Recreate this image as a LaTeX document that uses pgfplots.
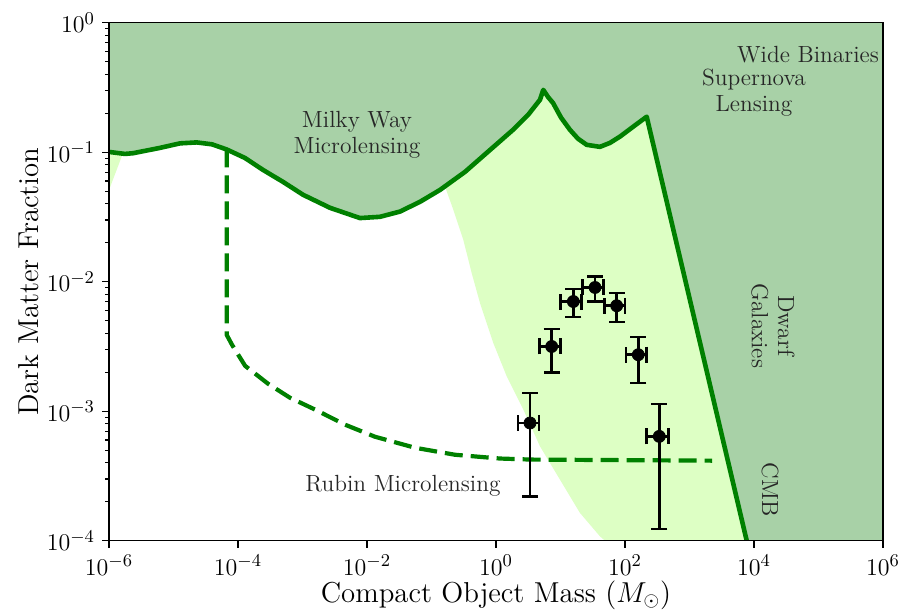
\documentclass[border=0pt]{standalone}
\usepackage{pgfplots}
\pgfplotsset{compat=1.18}
\usepackage{pgfplotstable}

\definecolor{darkfill}{RGB}{168,209,167}
\definecolor{lightfill}{RGB}{221,255,196}
\definecolor{mplgreen}{RGB}{0,128,0}

% Milky Way microlensing bound, then the CMB line down to the bottom
\pgfplotstableread{
x y
1.00e-6 0.1005
1.77e-6 0.0970
2.36e-6 0.0982
6.18e-6 0.108
1.26e-5 0.117
2.29e-5 0.119
3.96e-5 0.115
6.68e-5 0.105
1.28e-4 0.0903
2.44e-4 0.0730
4.99e-4 0.0590
1.02e-3 0.0469
2.67e-3 0.0372
7.78e-3 0.0310
1.59e-2 0.0317
3.25e-2 0.0348
6.64e-2 0.0414
0.136 0.0512
0.331 0.0705
0.807 0.104
1.84 0.149
3.14 0.194
4.81 0.254
5.41 0.303
6.40 0.267
7.66 0.240
10.2 0.185
14.0 0.149
18.7 0.127
25.5 0.114
40.9 0.110
58.5 0.118
83.6 0.132
133 0.157
217 0.188
7710 1e-4
}\boundtable

% Rubin microlensing forecast
\pgfplotstableread{
x y
6.68e-5 0.105
6.68e-5 3.89e-3
8.07e-5 3.26e-3
1.29e-4 2.24e-3
2.92e-4 1.63e-3
6.40e-4 1.27e-3
1.56e-3 1.03e-3
4.56e-3 7.87e-4
1.33e-2 6.35e-4
5.55e-2 5.22e-4
0.231 4.61e-4
1.15 4.31e-4
3.49 4.23e-4
2234 4.15e-4
}\rubintable

% measured points with errors
\pgfplotstableread{
x y exp exm eyp eym
3.37 8.11e-4 1.27 1.18 5.69e-4 5.91e-4
7.30 3.16e-3 2.77 2.61 1.15e-3 1.17e-3
15.8 7.03e-3 5.5 5.7 1.74e-3 1.70e-3
34.3 9.02e-3 11.8 12.2 1.98e-3 1.99e-3
74.3 6.52e-3 25.7 26.5 1.65e-3 1.64e-3
160.7 2.73e-3 56.3 56.7 1.01e-3 1.08e-3
340 6.39e-4 129 123 5.01e-4 5.16e-4
}\pointtable

\begin{document}
\begin{tikzpicture}
\begin{axis}[
    scale only axis,
    width=387pt,
    height=259pt,
    xmode=log, ymode=log,
    xmin=1e-6, xmax=1e6,
    ymin=1e-4, ymax=1,
    xtick={1e-6,1e-4,1e-2,1,1e2,1e4,1e6},
    ytick={1e-4,1e-3,1e-2,1e-1,1},
    xminorticks=false,
    tick align=outside,
    xtick pos=bottom, ytick pos=left,
    major tick length=3.5pt,
    minor tick length=2pt,
    every tick/.style={black, line width=0.6pt},
    axis line style={line width=0.8pt},
    axis on top,
    tick label style={font=\fontsize{12.5}{15}\selectfont},
    label style={font=\fontsize{14.4}{17}\selectfont},
    xlabel={Compact Object Mass ($M_\odot$)},
    ylabel={Dark Matter Fraction},
    ylabel style={yshift=-3pt},
    xlabel style={yshift=4pt},
    clip=true,
]

% light green allowed band
\addplot[fill=lightfill, draw=none] coordinates {
    (0.113,0.0730) (0.162,0.0543) (0.218,0.0359) (0.311,0.0211)
    (0.420,0.01164) (0.565,6.84e-3) (0.908,3.36e-3) (1.466,1.86e-3)
    (2.65,1.03e-3) (4.81,5.35e-4) (9.82,2.96e-4) (20.0,1.64e-4)
    (40.9,1.08e-4) (49,1e-4) (7710,1e-4) (217,0.188)
    (5.41,0.5) (0.113,0.5)
} -- cycle;
\addplot[fill=lightfill, draw=none] coordinates {
    (1e-6,0.1) (1.67e-6,0.1) (1e-6,0.051)
} -- cycle;

% excluded region
\addplot[fill=darkfill, draw=none] table[x=x,y=y] {\boundtable}
    -- (axis cs:1e6,1e-4) -- (axis cs:1e6,1) -- (axis cs:1e-6,1) -- cycle;

\addplot[mplgreen, line width=2.3pt, line join=round] table[x=x,y=y] {\boundtable};

\addplot[mplgreen, line width=2.1pt, dash pattern=on 9pt off 4pt] table[x=x,y=y] {\rubintable};

\addplot[only marks, mark=*, mark size=3pt, black,
    error bars/.cd,
    x dir=both, x explicit,
    y dir=both, y explicit,
    error mark=|,
    error bar style={line width=1.3pt, black},
    error mark options={line width=1.3pt, mark size=4pt, black},
] table[x=x, y=y, x error plus=exp, x error minus=exm,
        y error plus=eyp, y error minus=eym] {\pointtable};

\begin{scope}[every node/.style={font=\fontsize{11.7}{13}\selectfont, align=center, text=black!85}]
\node at (axis cs:7e-3,0.136) {Milky Way\\Microlensing};
\node at (axis cs:6.87e4,0.564) {Wide Binaries};
\node at (axis cs:1e4,0.286) {Supernova\\Lensing};
\node[rotate=-90] at (axis cs:1.97e4,4.57e-3) {Dwarf\\Galaxies};
\node[rotate=-90] at (axis cs:1.77e4,2.48e-4) {CMB};
\node at (axis cs:0.0361,2.66e-4) {Rubin Microlensing};
\end{scope}

\end{axis}
\pgfresetboundingbox
\path ([xshift=-54.5pt,yshift=-35.5pt]current axis.south west)
    rectangle ([xshift=10.5pt,yshift=11.35pt]current axis.north east);
\end{tikzpicture}
\end{document}
